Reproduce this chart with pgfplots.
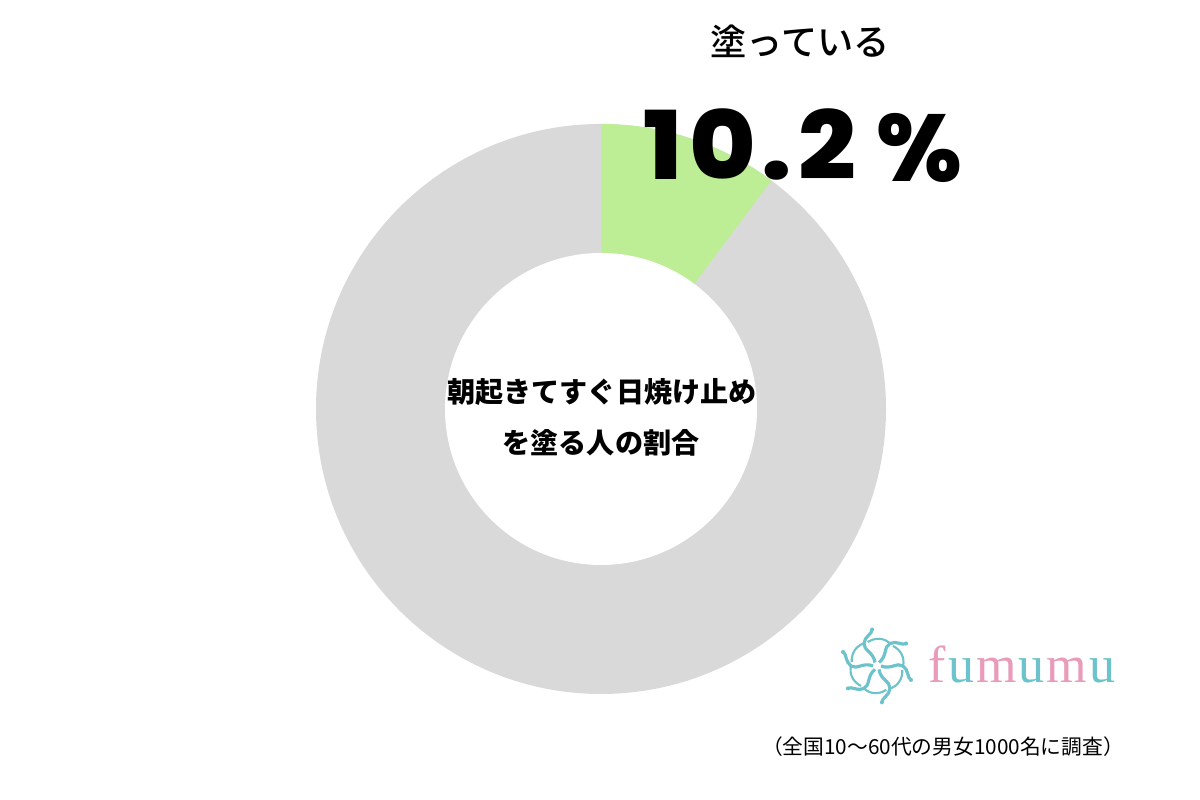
\documentclass[border=0pt]{standalone}
\usepackage{pgfplots}
\pgfplotsset{compat=1.18}
\usepackage{pgfplotstable}
\usepackage{graphicx}
\usepackage{fontspec}
\newfontfamily\jp{Noto Sans CJK JP}
\newfontfamily\jpm{Noto Sans CJK JP Medium}
\newfontfamily\pop{Poppins}[UprightFont={* ExtraBold}]
\newfontfamily\popls{Poppins}[UprightFont={* ExtraBold},LetterSpace=6]
\newfontfamily\logofont{Liberation Serif}
\definecolor{slicegreen}{HTML}{BDEE96}
\definecolor{slicegray}{HTML}{D9D9D9}
\definecolor{logoteal}{HTML}{6CC3CB}
\definecolor{logopink}{HTML}{E99BBA}
\pgfplotstableread{
label value
yes 10.2
no 89.8
}\datatable
\pgfplotstablegetelem{0}{value}\of\datatable
\xdef\pa{\pgfplotsretval}
\begin{document}
\begin{tikzpicture}
\begin{axis}[width=12cm,height=8cm,scale only axis,
  xmin=0,xmax=1200,ymin=0,ymax=800,hide axis,clip=false]
\fill[white] (rel axis cs:0,0) rectangle (rel axis cs:1,1);
\fill[slicegray] (axis cs:601,391) circle[radius=2.85cm];
\fill[slicegreen] (axis cs:601,391) -- ++(90:2.85cm) arc[start angle=90,end angle={90-3.6*\pa},radius=2.85cm] -- cycle;
\fill[white] (axis cs:601,391) circle[radius=1.56cm];
\node[font=\jpm\fontsize{10.3pt}{12pt}\selectfont] at (axis cs:800,759) {塗っている};
\node[font=\popls\fontsize{27pt}{30pt}\selectfont,anchor=base west,inner sep=0pt] at (axis cs:643,620) {\scalebox{1.07}[1]{\pa}};
\node[font=\pop\fontsize{27pt}{30pt}\selectfont,anchor=base west,inner sep=0pt] at (axis cs:876,618) {\%};
\node[font=\jp\bfseries\fontsize{8pt}{10pt}\selectfont] at (axis cs:602,408) {朝起きてすぐ日焼け止め};
\node[font=\jp\bfseries\fontsize{8pt}{10pt}\selectfont] at (axis cs:601,357) {を塗る人の割合};
\node[font=\jp\fontsize{5.9pt}{7pt}\selectfont] at (axis cs:943,53) {（全国10〜60代の男女1000名に調査）};
\node[font=\logofont\fontsize{14.8pt}{18pt}\selectfont,anchor=base west,inner sep=0pt] at (axis cs:928,117)
  {\textcolor{logopink}{f}\kern0.6pt\textcolor{logoteal}{u}\kern0.6pt\textcolor{logopink}{m}\kern0.6pt\textcolor{logoteal}{u}\kern0.6pt\textcolor{logopink}{m}\kern0.6pt\textcolor{logoteal}{u}};
\coordinate (logo) at (axis cs:877,134);
\end{axis}
\begin{scope}[shift={(logo)},x=0.01cm,y=0.01cm]
\foreach \ang in {0,60,...,300}{
  \draw[logoteal,line width=0.9pt,rotate=\ang] (4,0) .. controls (14,-4) and (20,4) .. (26,0)
     .. controls (32,-4) and (30,-12) .. (34,-14);
  \draw[logoteal,line width=0.6pt,rotate=\ang] (26,0) .. controls (28,8) and (24,16) .. (16,20);
  \fill[logoteal,rotate=\ang] (34,-14) circle[radius=2];
}
\end{scope}
\end{tikzpicture}
\end{document}
